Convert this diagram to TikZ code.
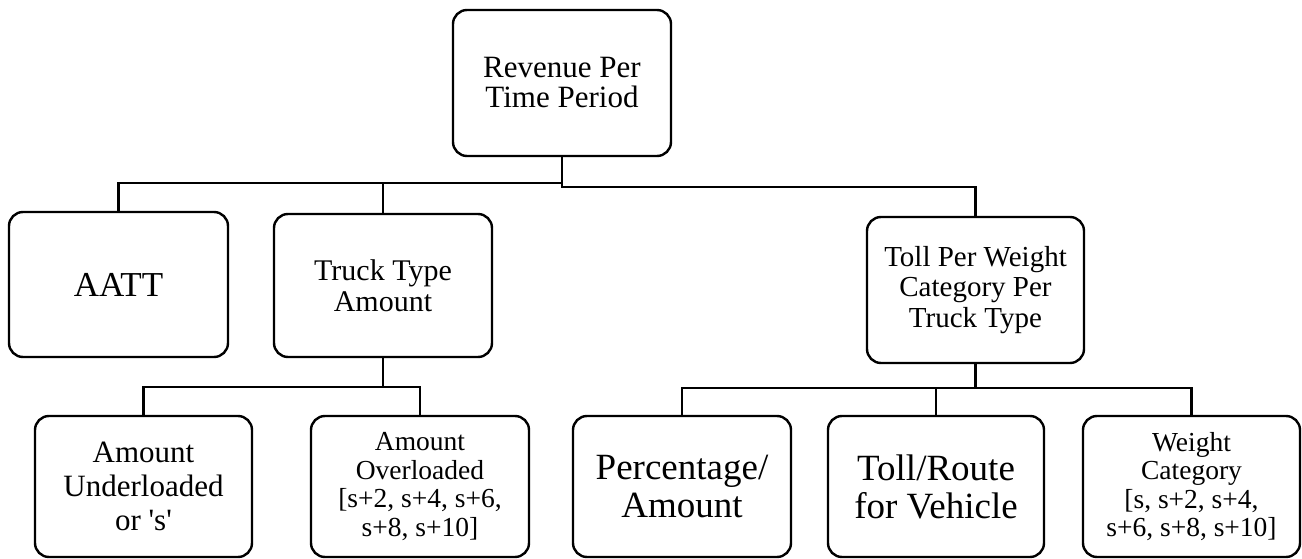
\documentclass[tikz,border=0pt]{standalone}
\usepackage{fontspec}
\setmainfont{Liberation Serif}
\begin{document}
\begin{tikzpicture}[x=1pt,y=-1pt,
  box/.style={draw=black, line width=2.4pt, rounded corners=14pt, fill=white,
    inner sep=0pt, align=center, text=black},
  conn/.style={draw=black, line width=2.4pt}]
\useasboundingbox (0,0) rectangle (1302,559);
% level 1
\node[box, minimum width=218pt, minimum height=146pt,
  font=\fontsize{31}{30}\selectfont] (root) at (562,83) {Revenue Per\\Time Period};
% level 2
\node[box, minimum width=219pt, minimum height=145pt,
  font=\fontsize{35}{36}\selectfont] (aatt) at (118.5,284.5) {AATT};
\node[box, minimum width=218pt, minimum height=143pt,
  font=\fontsize{30}{31}\selectfont] (truck) at (383,285.5) {Truck Type\\Amount};
\node[box, minimum width=217pt, minimum height=146pt,
  font=\fontsize{29}{30.5}\selectfont] (toll) at (975.5,290) {Toll Per Weight\\Category Per\\Truck Type};
% level 3
\node[box, minimum width=217pt, minimum height=141pt,
  font=\fontsize{31}{34}\selectfont] (under) at (143.5,486.5) {Amount\\Underloaded\\or \textquotesingle s\textquotesingle};
\node[box, minimum width=218pt, minimum height=141pt,
  font=\fontsize{27.5}{28.5}\selectfont] (over) at (420,486.5) {Amount\\Overloaded\\{}[s+2, s+4, s+6,\\s+8, s+10]};
\node[box, minimum width=218pt, minimum height=141pt,
  font=\fontsize{37}{38}\selectfont] (perc) at (682,486.5) {Percentage/\\Amount};
\node[box, minimum width=216pt, minimum height=141pt,
  font=\fontsize{37}{38}\selectfont] (route) at (936,486.5) {Toll/Route\\for Vehicle};
\node[box, minimum width=217pt, minimum height=141pt,
  font=\fontsize{27.5}{28.5}\selectfont] (weight) at (1191.5,486.5) {Weight\\Category\\{}[s, s+2, s+4,\\s+6, s+8, s+10]};
% junction points
\coordinate (b1) at (562,183);
\coordinate (b2) at (562,187);
\coordinate (c1) at (383,387);
\coordinate (c2) at (975.5,388);
% connectors
\draw[conn] (root.south) -- (b2) -| (toll.north);
\draw[conn] (aatt.north) |- (b1);
\draw[conn] (truck.north) -- (truck.north |- b1);
\draw[conn] (truck.south) -- (c1);
\draw[conn] (under.north) |- (c1) -| (over.north);
\draw[conn] (toll.south) -- (c2);
\draw[conn] (perc.north) |- (c2) -| (weight.north);
\draw[conn] (route.north) -- (route.north |- c2);
\end{tikzpicture}
\end{document}
